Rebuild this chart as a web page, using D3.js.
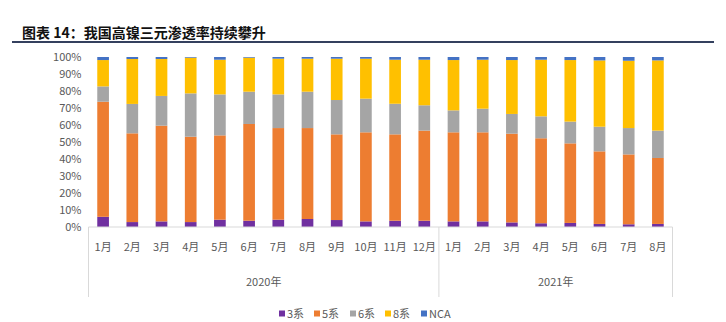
<!DOCTYPE html>
<html>
<head>
  <meta charset="utf-8">
  <title>高镍三元渗透率</title>
  <script src="https://d3js.org/d3.v7.min.js"></script>
  <style>
    body { margin: 0; background: #fff; }
    text { font-family: "Noto Sans CJK SC", "Noto Sans", sans-serif; }
  </style>
</head>
<body>
  <div id="chart"></div>
  <script>
    // 月份与年份
    const months = ["1月","2月","3月","4月","5月","6月","7月","8月","9月","10月","11月","12月",
                    "1月","2月","3月","4月","5月","6月","7月","8月"];
    const years = [{ name: "2020年", count: 12 }, { name: "2021年", count: 8 }];

    // 各系占比（%）
    const s3  = [6.0, 2.9, 3.3, 2.9, 4.3, 3.7, 4.3, 4.7, 4.1, 3.3, 3.7, 3.7, 3.3, 3.3, 2.7, 2.2, 2.4, 1.8, 1.6, 1.8];
    const s5  = [67.7, 52.2, 56.3, 50.2, 49.6, 56.9, 53.9, 53.5, 50.4, 52.4, 50.8, 53.0, 52.4, 52.4, 52.2, 50.0, 46.8, 42.7, 41.1, 38.8];
    const s6  = [9.0, 17.3, 17.5, 25.5, 24.1, 19.0, 19.8, 21.4, 20.2, 19.8, 18.0, 14.9, 12.9, 13.9, 11.6, 12.9, 12.8, 14.5, 15.5, 16.1];
    const s8  = [15.5, 26.4, 21.7, 21.0, 20.4, 20.0, 21.0, 19.4, 24.3, 23.5, 25.9, 26.8, 29.6, 28.8, 31.7, 33.3, 36.2, 39.0, 39.6, 41.3];
    const nca = [1.8, 1.2, 1.2, 0.4, 1.6, 0.4, 1.0, 1.0, 1.0, 1.0, 1.6, 1.6, 1.8, 1.6, 1.8, 1.6, 1.8, 2.0, 2.2, 2.0];

    const seriesNames = ["3系", "5系", "6系", "8系", "NCA"];
    const colors = ["#7030A0", "#ED7D31", "#A5A5A5", "#FFC000", "#4472C4"];

    const W = 726, H = 322;
    const plotLeft = 88.5, plotRight = 672.5, plotTop = 57, plotBottom = 227;

    const svg = d3.select("#chart").append("svg")
      .attr("width", W).attr("height", H);

    // 标题与下划线
    svg.append("text")
      .attr("x", 22).attr("y", 38)
      .attr("font-size", 14).attr("font-weight", "bold")
      .attr("fill", "#111")
      .text("图表 14：我国高镍三元渗透率持续攀升");
    svg.append("line")
      .attr("x1", 12).attr("x2", 714).attr("y1", 42).attr("y2", 42)
      .attr("stroke", "#34405e").attr("stroke-width", 2);

    const rows = months.map((m, i) => ({
      key: i, "3系": s3[i], "5系": s5[i], "6系": s6[i], "8系": s8[i], "NCA": nca[i]
    }));

    const x = d3.scaleBand().domain(d3.range(months.length)).range([plotLeft, plotRight]).paddingInner(0.6).paddingOuter(0.3);
    const y = d3.scaleLinear().domain([0, 100]).range([plotBottom, plotTop]);

    const stacked = d3.stack().keys(seriesNames).offset(d3.stackOffsetExpand)(rows);

    // 堆积柱
    svg.append("g").selectAll("g")
      .data(stacked)
      .join("g")
      .attr("fill", (d, i) => colors[i])
      .selectAll("rect")
      .data(d => d)
      .join("rect")
      .attr("x", d => x(d.data.key))
      .attr("width", x.bandwidth())
      .attr("y", d => y(d[1] * 100))
      .attr("height", d => y(d[0] * 100) - y(d[1] * 100));

    // Y 轴
    const yAxis = svg.append("g")
      .attr("transform", `translate(${plotLeft - 6},0)`)
      .call(d3.axisLeft(y).tickValues(d3.range(0, 101, 10)).tickFormat(d => d + "%").tickSize(0));
    yAxis.select(".domain").remove();
    yAxis.selectAll("text").attr("font-size", 11).attr("fill", "#595959").attr("x", -1);

    // X 轴：月份
    const xAxis = svg.append("g")
      .attr("transform", `translate(0,${plotBottom})`)
      .call(d3.axisBottom(x).tickFormat(i => months[i]).tickSize(0));
    xAxis.select(".domain").attr("stroke", "#d9d9d9").attr("d", `M${plotLeft},0H${plotRight}`);
    xAxis.selectAll("text").attr("font-size", 11).attr("fill", "#595959").attr("dy", 0).attr("y", 24);

    // 年份分组
    const step = x.step();
    let start = 0;
    const bounds = [plotLeft];
    years.forEach(yr => {
      const x0 = x(start) - x.paddingInner() * step / 2;
      const x1 = x(start + yr.count - 1) + x.bandwidth() + x.paddingInner() * step / 2;
      const xa = start === 0 ? plotLeft : x0;
      const xb = start + yr.count === months.length ? plotRight : x1;
      svg.append("text")
        .attr("x", (xa + xb) / 2).attr("y", 286)
        .attr("text-anchor", "middle")
        .attr("font-size", 11).attr("fill", "#595959")
        .text(yr.name);
      bounds.push(xb);
      start += yr.count;
    });
    svg.append("g").selectAll("line")
      .data(bounds)
      .join("line")
      .attr("x1", d => d).attr("x2", d => d)
      .attr("y1", plotBottom).attr("y2", 297)
      .attr("stroke", "#d9d9d9");

    // 图例
    const legendX = [279, 314, 350, 385, 421];
    const legend = svg.append("g").selectAll("g")
      .data(seriesNames)
      .join("g")
      .attr("transform", (d, i) => `translate(${legendX[i]},314)`);
    legend.append("rect")
      .attr("x", 0).attr("y", -3.5).attr("width", 6).attr("height", 6)
      .attr("fill", (d, i) => colors[i]);
    legend.append("text")
      .attr("x", 8).attr("y", 4)
      .attr("font-size", 11).attr("fill", "#595959")
      .text(d => d);
  </script>
</body>
</html>
